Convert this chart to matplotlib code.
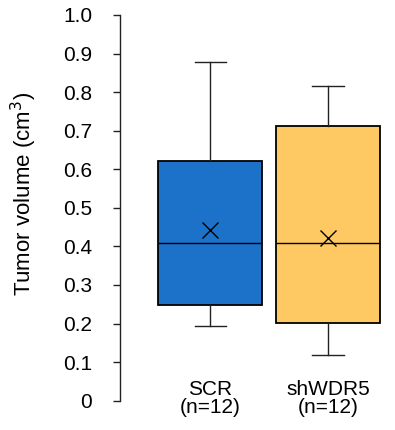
import matplotlib
matplotlib.use('Agg')
import matplotlib.pyplot as plt

# box statistics
groups = ['SCR\n(n=12)', 'shWDR5\n(n=12)']
whislo = [0.194, 0.118]
q1 = [0.248, 0.201]
med = [0.409, 0.409]
q3 = [0.622, 0.712]
whishi = [0.878, 0.817]
means = [0.443, 0.421]
colors = ['#1c72c9', '#fec962']

plt.rcParams['font.family'] = ['Liberation Sans', 'DejaVu Sans']

fig = plt.figure(figsize=(3.95, 4.30), dpi=100)
ax = fig.add_axes([120/395, 29.3/430, 1 - 120/395, 385.7/430])

stats = []
for i in range(len(groups)):
    stats.append(dict(whislo=whislo[i], q1=q1[i], med=med[i], q3=q3[i],
                      whishi=whishi[i], mean=means[i], label=groups[i]))

bp = ax.bxp(stats, positions=[1, 2], widths=0.885, patch_artist=True,
            showmeans=True, showfliers=False,
            boxprops=dict(edgecolor='black', linewidth=1.3),
            medianprops=dict(color='black', linewidth=1.0),
            whiskerprops=dict(color='#222222', linewidth=1.0),
            capprops=dict(color='#222222', linewidth=1.0),
            capwidths=0.265,
            meanprops=dict(marker='x', markersize=11, markeredgecolor='black',
                           markeredgewidth=1.0))
for patch, c in zip(bp['boxes'], colors):
    patch.set_facecolor(c)

ax.set_xlim(0.23, 2.57)
ax.set_ylim(0, 1.0)
ax.set_yticks([i / 10 for i in range(11)])
ax.set_yticklabels(['0'] + ['%.1f' % (i / 10) for i in range(1, 11)], fontsize=15)
ax.tick_params(axis='y', length=5, width=1, pad=15, color='#222222')
ax.tick_params(axis='x', length=0, pad=-15, labelsize=15)
for lbl in ax.get_xticklabels():
    lbl.set_linespacing(0.95)

for s in ['top', 'right', 'bottom']:
    ax.spines[s].set_visible(False)
ax.spines['left'].set_color('#222222')
ax.spines['left'].set_linewidth(1.0)
ax.patch.set_alpha(0)

ax.set_ylabel('Tumor volume (cm$^3$)', fontsize=16)
ax.yaxis.set_label_coords(-0.295, 0.536)

fig.savefig('out.png', dpi=100)
